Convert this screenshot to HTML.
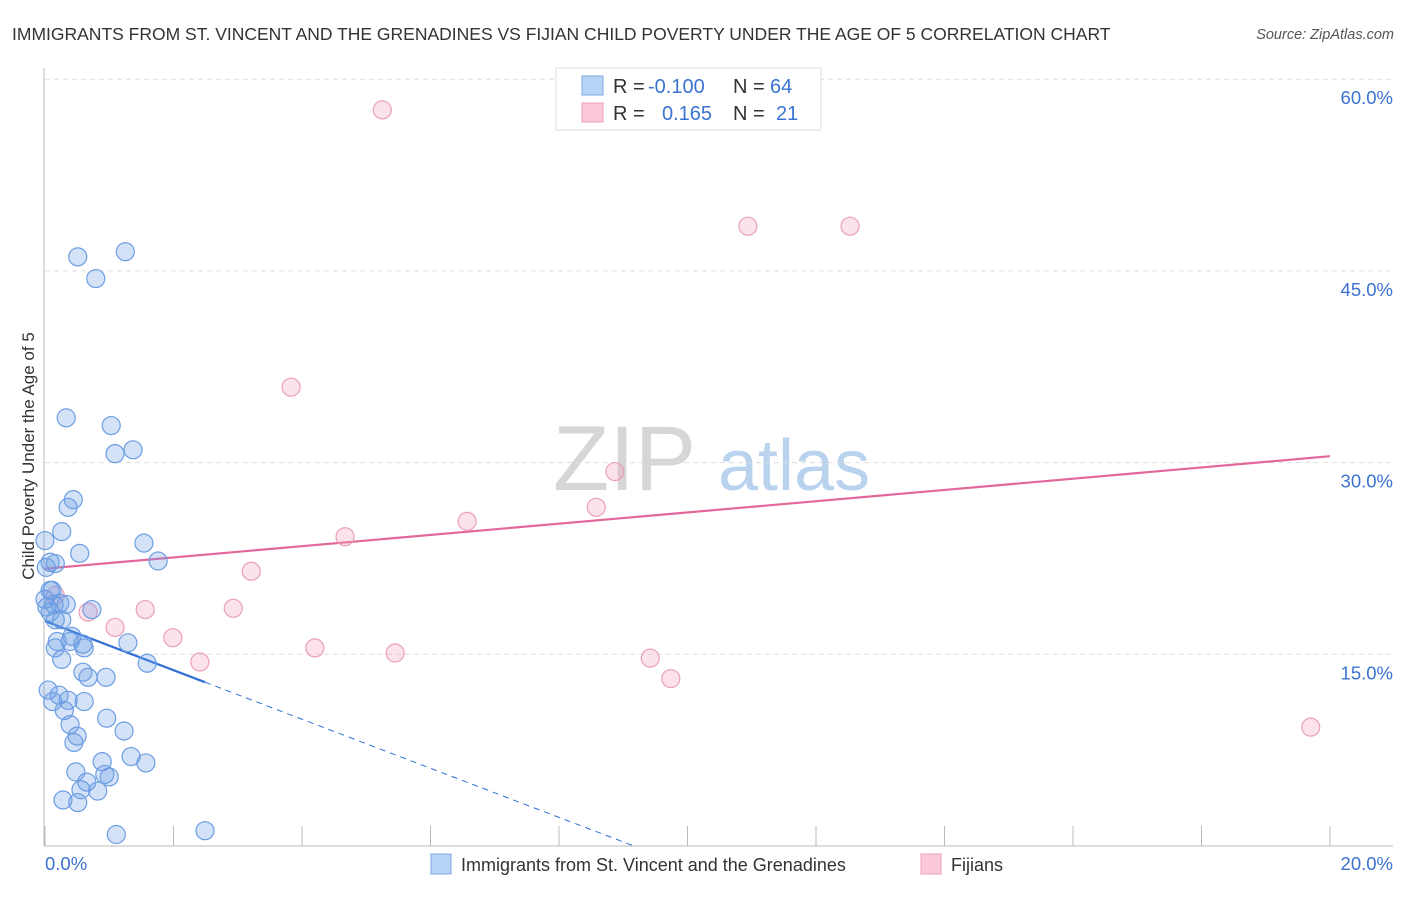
<!DOCTYPE html>
<html><head><meta charset="utf-8"><style>
body{margin:0;background:#fff;font-family:"Liberation Sans",sans-serif;}
svg text{font-family:"Liberation Sans",sans-serif;}
</style></head><body>
<svg id="chart" width="1406" height="892" xmlns="http://www.w3.org/2000/svg">
<text x="12" y="40" font-size="17.5" fill="#333">IMMIGRANTS FROM ST. VINCENT AND THE GRENADINES VS FIJIAN CHILD POVERTY UNDER THE AGE OF 5 CORRELATION CHART</text>
<text x="1394" y="39" font-size="14.5" fill="#555" font-style="italic" text-anchor="end">Source: ZipAtlas.com</text>
<g>
<text x="553" y="490" font-size="92" fill="#d6d6d6" font-family="Liberation Serif, serif">ZIP</text>
<text x="718" y="490" font-size="72" fill="#b9d3ef">atlas</text>
</g>
<g id="grid"></g>
<g id="axes"></g>
<g id="trends"></g>
<g id="points"></g>
<text transform="translate(34,456) rotate(-90)" font-size="17" fill="#333" text-anchor="middle">Child Poverty Under the Age of 5</text>
<g>
<rect x="556" y="68" width="265" height="62" fill="#fff" stroke="#ddd"/>
<rect x="582" y="76" width="21" height="19" fill="#b7d3f5" stroke="#7fa9e3"/>
<rect x="582" y="103" width="21" height="19" fill="#fbc9d8" stroke="#eca0b8"/>
<text x="613" y="93" font-size="20" fill="#333">R = </text><text x="648" y="93" font-size="20" fill="#3b73d1">-0.100</text>
<text x="733" y="93" font-size="20" fill="#333">N = </text><text x="770" y="93" font-size="20" fill="#3b73d1">64</text>
<text x="613" y="120" font-size="20" fill="#333">R = </text><text x="662" y="120" font-size="20" fill="#3b73d1">0.165</text>
<text x="733" y="120" font-size="20" fill="#333">N = </text><text x="776" y="120" font-size="20" fill="#3b73d1">21</text>
</g>
<g>
<rect x="431" y="854" width="20" height="20" fill="#b7d3f5" stroke="#7fa9e3"/>
<text x="461" y="871" font-size="18" fill="#333">Immigrants from St. Vincent and the Grenadines</text>
<rect x="921" y="854" width="20" height="20" fill="#fbc9d8" stroke="#eca0b8"/>
<text x="951" y="871" font-size="18" fill="#333">Fijians</text>
</g>
</svg>
<script>
const xTicks=[0,2,4,6,8,10,12,14,16,18,20];
const yTicks=[15,30,45,60];
const yTickLabels=["15.0%","30.0%","45.0%","60.0%"];
const xEndLabels=["0.0%","20.0%"];
const blueX=[0.51,1.25,0.79,0.33,1.03,1.09,1.37,0.44,0.36,0.26,0.0,0.54,1.54,1.76,0.16,0.08,0.11,0.0,0.23,0.33,0.08,0.16,0.73,0.19,0.39,0.59,0.42,0.16,0.61,1.29,0.26,1.59,0.59,0.67,0.95,0.22,0.12,0.36,0.61,0.96,0.39,1.23,0.50,0.45,0.89,1.34,1.57,0.48,0.93,1.0,0.65,0.56,0.82,0.28,0.51,1.11,2.49,0.02,0.03,0.14,0.26,0.05,0.30,0.08];
const blueY=[46.1,46.5,44.4,33.5,32.9,30.7,31.0,27.1,26.5,24.6,23.9,22.9,23.7,22.3,22.1,22.2,20.0,19.3,19.0,18.9,18.3,17.7,18.5,16.0,16.0,15.8,16.4,15.5,15.5,15.9,14.6,14.3,13.6,13.2,13.2,11.8,11.3,11.4,11.3,10.0,9.5,9.0,8.6,8.1,6.6,7.0,6.5,5.8,5.6,5.4,5.0,4.4,4.3,3.6,3.4,0.9,1.2,21.8,18.7,18.9,17.7,12.2,10.6,20.0];
const pinkX=[5.25,10.94,12.53,3.83,8.87,6.57,8.58,4.67,3.21,2.93,1.56,0.67,1.09,1.99,2.41,4.20,5.45,9.42,9.74,19.70,0.16];
const pinkY=[57.6,48.5,48.5,35.9,29.3,25.4,26.5,24.2,21.5,18.6,18.5,18.3,17.1,16.3,14.4,15.5,15.1,14.7,13.1,9.3,19.6];
const blueTrend=[17.6,-1.92];
const pinkTrend=[21.7,0.44];
const NS="http://www.w3.org/2000/svg";
const sx=v=>45+v*64.25, sy=v=>846-v*12.78;
function mk(tag,attrs,parent){const e=document.createElementNS(NS,tag);for(const k in attrs)e.setAttribute(k,attrs[k]);document.getElementById(parent).appendChild(e);return e;}
yTicks.forEach((t,i)=>{
 const g=mk('line',{x1:45,x2:1393,y1:sy(t),y2:sy(t),stroke:'#ddd','stroke-dasharray':'5,4'},'grid');
 
 
 const l=mk('text',{x:1393,y:sy(t)+25,'font-size':18.5,fill:'#3b73d1','text-anchor':'end'},'axes');
 l.textContent=yTickLabels[i];
 
 
});
const ya=mk('line',{x1:44,x2:44,y1:68,y2:846,stroke:'#bbb'},'axes');


const xa=mk('line',{x1:44,x2:1393,y1:846,y2:846,stroke:'#bbb'},'axes');


xTicks.forEach(t=>{
 const k=mk('line',{x1:sx(t),x2:sx(t),y1:826,y2:846,stroke:'#bbb'},'axes');
 
 
});
[[0,'start',45],[1,'end',1393]].forEach(([i,a,x])=>{
 const l=mk('text',{x:x,y:870,'font-size':18.5,fill:'#3b73d1','text-anchor':a},'axes');
 l.textContent=xEndLabels[i];
 
 
});
const bEnd=-blueTrend[0]/blueTrend[1];
const b1=mk('line',{x1:sx(0),y1:sy(blueTrend[0]),x2:sx(2.49),y2:sy(blueTrend[0]+blueTrend[1]*2.49),stroke:'#2f6fd6','stroke-width':2.2},'trends');


const b2=mk('line',{x1:sx(2.49),y1:sy(blueTrend[0]+blueTrend[1]*2.49),x2:sx(bEnd),y2:sy(0),stroke:'#2f6fd6','stroke-width':1,'stroke-dasharray':'6,5'},'trends');


const p1=mk('line',{x1:sx(0),y1:sy(pinkTrend[0]),x2:sx(20),y2:sy(pinkTrend[0]+pinkTrend[1]*20),stroke:'#e2679a','stroke-width':2.2},'trends');


pinkX.forEach((x,i)=>{
 const c=mk('circle',{cx:sx(x),cy:sy(pinkY[i]),r:9,fill:'rgba(245,160,190,0.3)',stroke:'#eaa0b8','stroke-width':1.2},'points');
 
 
});
blueX.forEach((x,i)=>{
 const c=mk('circle',{cx:sx(x),cy:sy(blueY[i]),r:9,fill:'rgba(110,160,230,0.3)',stroke:'#6c9de3','stroke-width':1.2},'points');
 
 
});
</script>
</body></html>
